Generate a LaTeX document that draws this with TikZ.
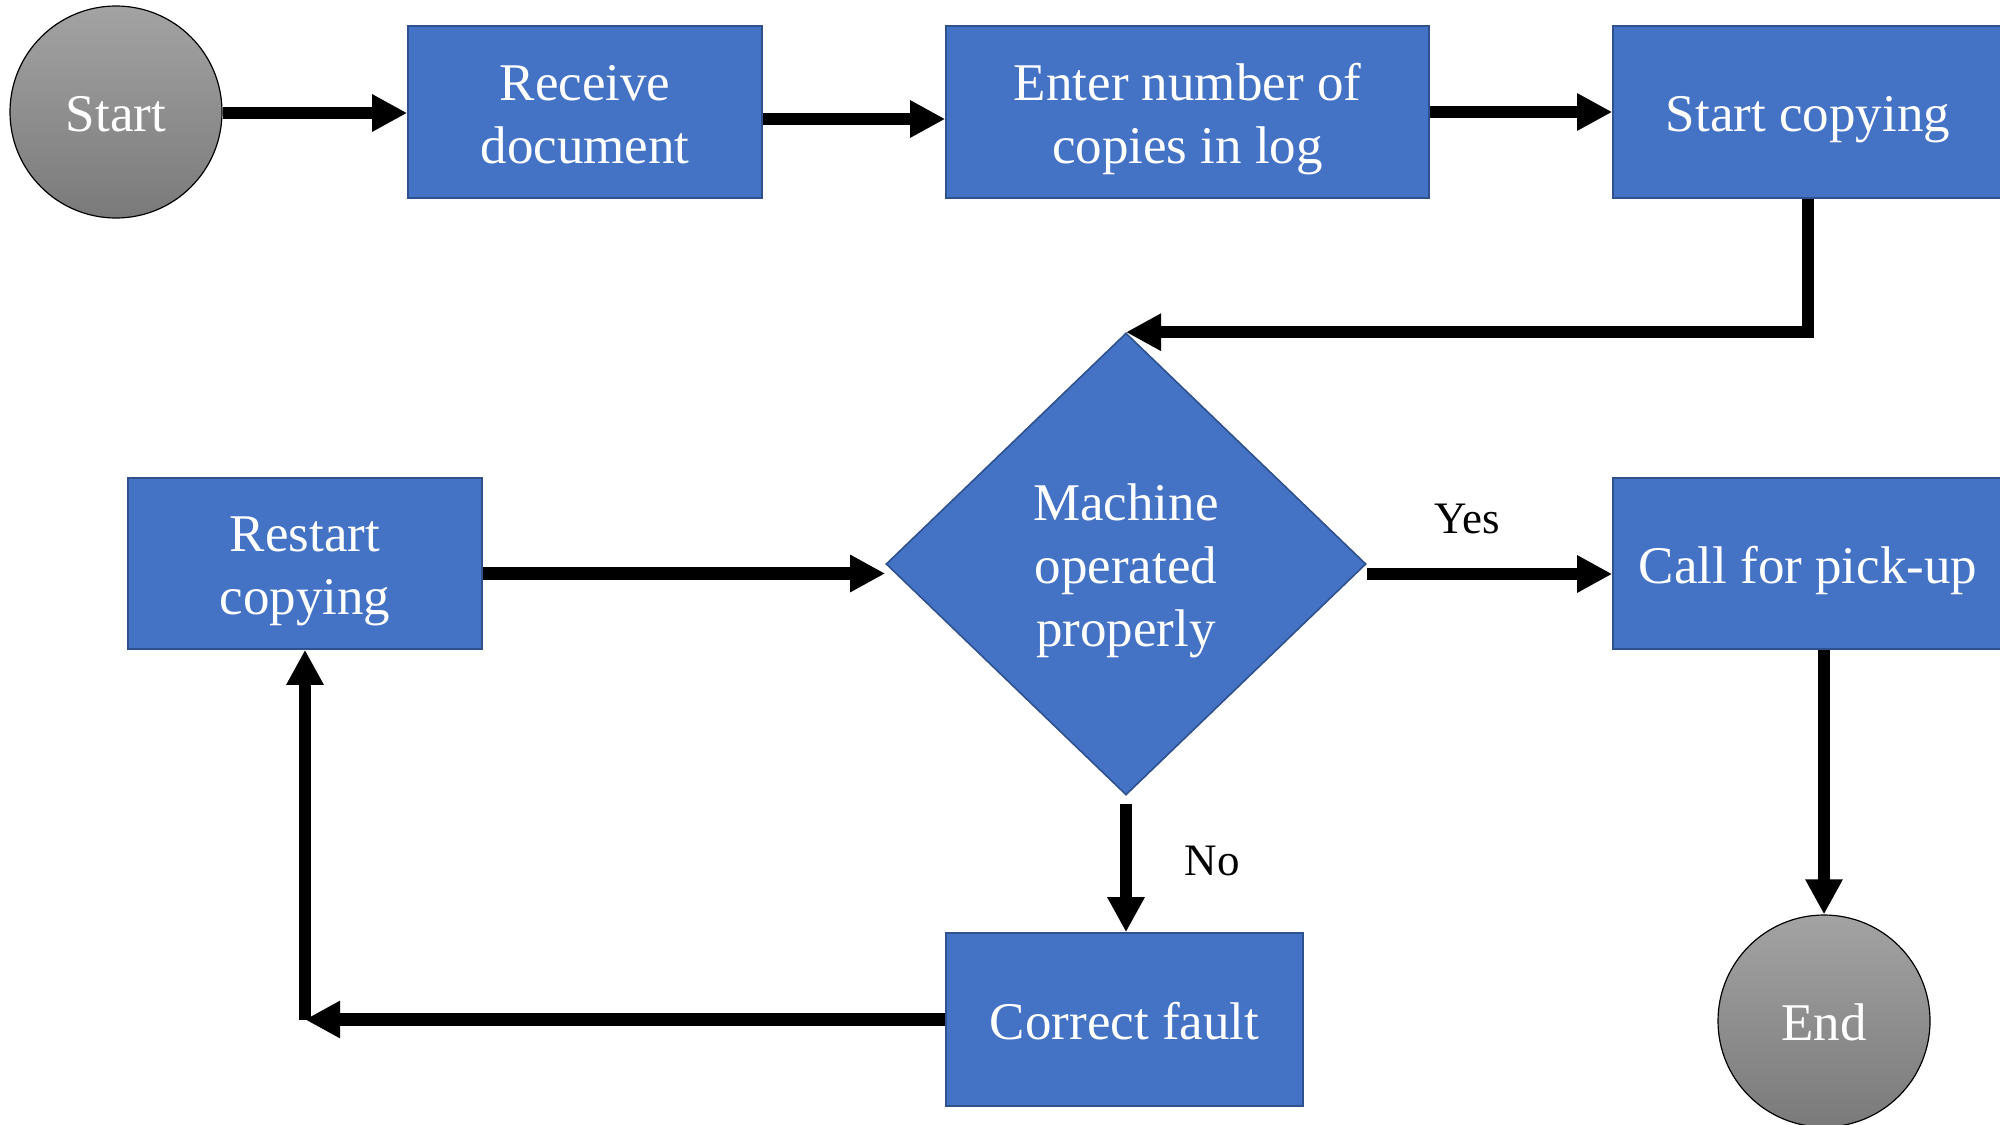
\documentclass[tikz,border=0pt]{standalone}
\usepackage{fontspec}
\setmainfont{Liberation Serif}
\usetikzlibrary{shapes.geometric,arrows.meta,calc}
\definecolor{boxblue}{HTML}{4472C4}
\definecolor{boxedge}{HTML}{2F528F}
\definecolor{termtop}{HTML}{A3A3A3}
\definecolor{termbot}{HTML}{7A7A7A}
% centred lines on a fixed strut grid, set slightly below the middle
\newcommand\boxlines[1]{\raisebox{-3.5pt}[\height][\depth]{\begin{tabular}{@{}c@{}}#1\end{tabular}}}

\begin{document}
\begin{tikzpicture}[x=0.5pt,y=-0.5pt,
  boxfont/.style={font=\fontsize{26.5}{31.5}\selectfont},
  stepbox/.style={rectangle, fill=boxblue, draw=boxedge, line width=0.8pt,
    text=white, inner sep=0pt, align=center, boxfont, minimum height=86pt},
  terminal/.style={circle, top color=termtop, bottom color=termbot, draw=black,
    line width=0.6pt, text=white, inner sep=0pt, minimum size=106pt, boxfont},
  decision/.style={diamond, fill=boxblue, draw=boxedge, line width=0.8pt,
    text=white, inner sep=0pt, align=center, minimum width=240pt,
    minimum height=231pt, boxfont},
  flow/.style={line width=6.25pt, -{Triangle[length=17.5pt,width=17.5pt]}},
  branch/.style={font=\fontsize{22.5}{27}\selectfont, anchor=base}
]
\useasboundingbox (0,0) rectangle (2000,1124);

% process nodes
\node[terminal] (start) at (116,112) {\boxlines{Start}};
\node[stepbox, minimum width=177pt] (receive) at (585,112) {\boxlines{Receive\\document}};
\node[stepbox, minimum width=241.5pt] (enter) at (1187.5,112) {\boxlines{Enter number of\\copies in log}};
\node[stepbox, minimum width=195pt] (copy) at (1808,112) {\boxlines{Start copying}};
\node[decision] (check) at (1126,564) {\boxlines{Machine\\operated\\properly}};
\node[stepbox, minimum width=177pt, minimum height=85.5pt] (restart) at (305,563.5) {\boxlines{Restart\\copying}};
\node[stepbox, minimum width=195pt, minimum height=85.5pt] (pickup) at (1808,563.5) {\boxlines{Call for pick-up}};
\node[stepbox, minimum width=178.5pt, minimum height=86.5pt] (fault) at (1124.5,1019.5) {\boxlines{Correct fault}};
\node[terminal] (finish) at (1824,1021) {\boxlines{End}};

% branch labels
\node[branch] (yes) at (1467,533) {Yes};
\node[branch] (no) at (1212,875) {No};

% connectors
\draw[flow] ([yshift=-0.5pt]start.east) -- ([yshift=-0.5pt]start.east -| receive.west);
\draw[flow] ([yshift=-3.5pt]receive.east) -- ([yshift=-3.5pt]receive.east -| enter.west);
\draw[flow] (enter.east) -- (copy.west);
\draw[flow] (copy.south) |- (check.north);
\draw[flow] ([yshift=-5pt]restart.east) -- ([yshift=-5pt]restart.east -| check.west);
\draw[flow] ([yshift=-5pt]check.east) -- ([yshift=-5pt]check.east -| pickup.west);
\draw[flow] ([yshift=-4pt]check.south) -- (check.south |- fault.north);
\draw[flow] (pickup.south -| finish.north) -- (finish.north);
\coordinate (loop) at (restart.south |- fault.west);
\draw[flow] (fault.west) -- (loop);
\draw[flow] (loop) -- (restart.south);
\end{tikzpicture}
\end{document}
